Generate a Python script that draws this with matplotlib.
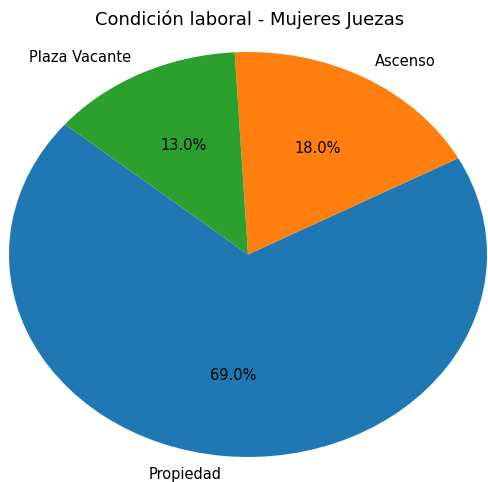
import matplotlib
matplotlib.use("Agg")
import matplotlib.pyplot as plt

labels = ["Propiedad", "Ascenso", "Plaza Vacante"]
values = [69.0, 18.0, 13.0]
colors = ["#1f77b4", "#ff7f0e", "#2ca02c"]
title = "Condición laboral - Mujeres Juezas"

fig = plt.figure(figsize=(4.88, 4.82), dpi=100)
ax = fig.add_axes([9/488, 25/482, 478/488, 405/482])
ax.pie(values, labels=labels, colors=colors, autopct="%1.1f%%", startangle=140,
       labeldistance=1.09, textprops={"fontsize": 10.5})
ax.set_aspect("auto")
ax.set_xlim(-1, 1)
ax.set_ylim(-1, 1)
ax.set_frame_on(False)
fig.text(250/488, 1 - 20/482, title, ha="center", va="center", fontsize=13)
fig.savefig("out.png", dpi=100)
